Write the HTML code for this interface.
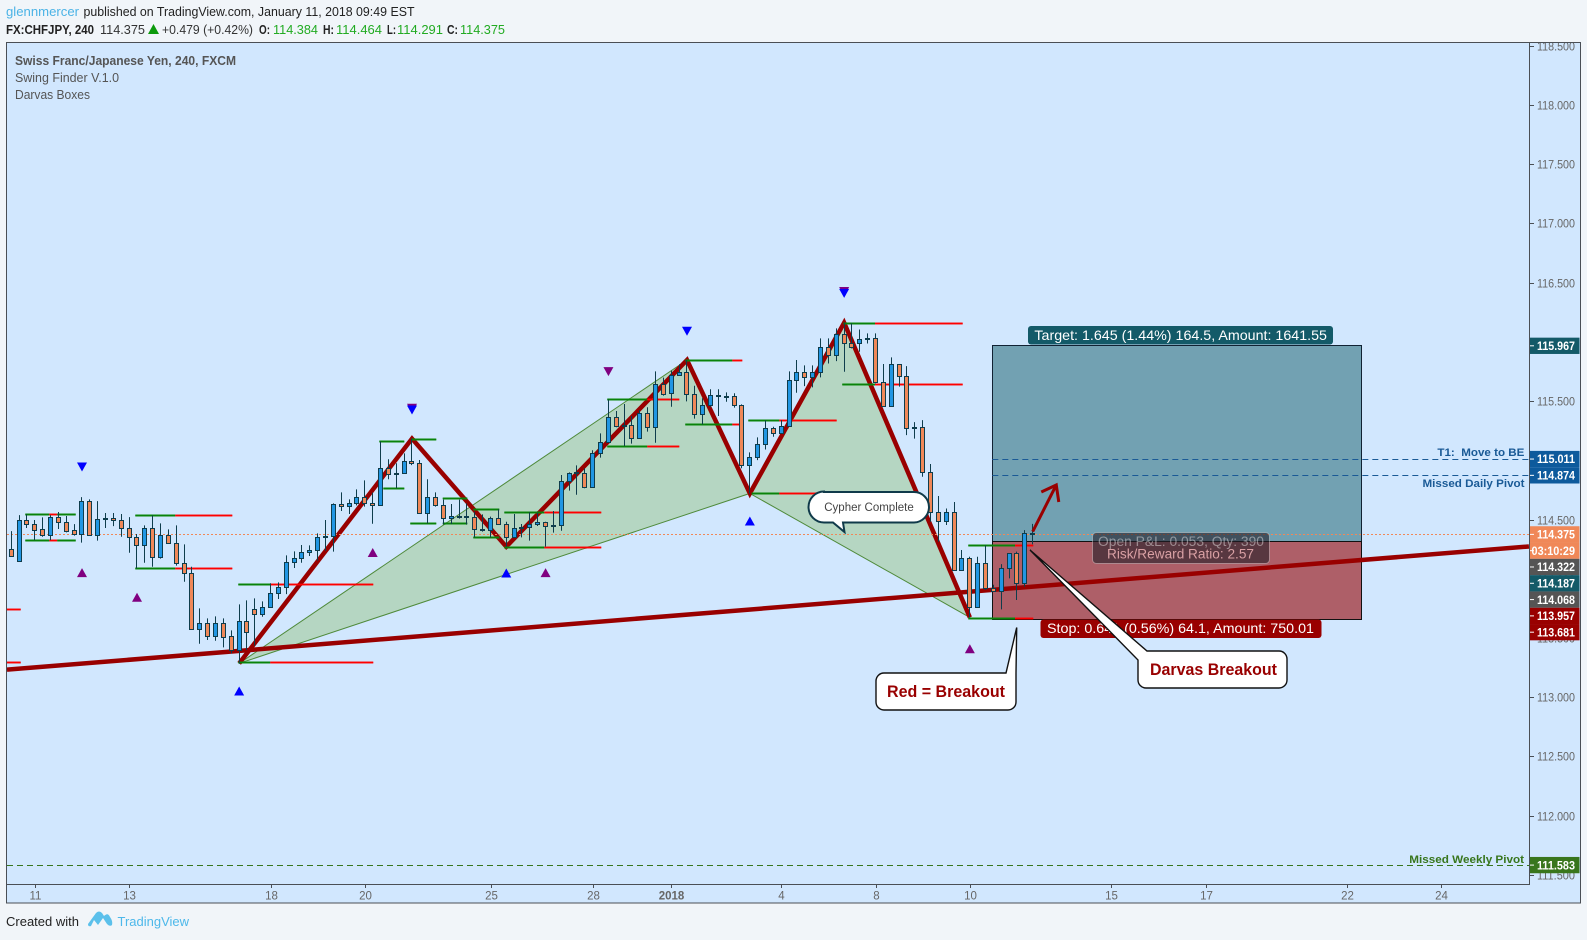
<!DOCTYPE html>
<html lang="en">
<head>
<meta charset="utf-8">
<title>CHFJPY 240 chart</title>
<style>
html,body{margin:0;padding:0;background:#f1f5f9;width:1587px;height:940px;overflow:hidden}
svg{display:block;font-family:"Liberation Sans",sans-serif}
</style>
</head>
<body>
<svg id="root" xmlns="http://www.w3.org/2000/svg" width="1587" height="940" viewBox="0 0 1587 940">
  <defs>
    <clipPath id="paneClip"><rect x="7" y="43" width="1522" height="841"/></clipPath>
    <clipPath id="axisClip"><rect x="1530" y="43" width="50.5" height="841"/></clipPath>
  </defs>

  <text x="6" y="16" font-size="13" fill="#4bb3e6" textLength="73" lengthAdjust="spacingAndGlyphs">glennmercer</text>
  <text x="83.5" y="16" font-size="13" fill="#222" textLength="331" lengthAdjust="spacingAndGlyphs">published on TradingView.com, January 11, 2018 09:49 EST</text>

  <g font-size="12.5">
    <text x="6" y="34" font-weight="bold" fill="#222" textLength="88" lengthAdjust="spacingAndGlyphs">FX:CHFJPY, 240</text>
    <text x="100" y="34" fill="#333" textLength="45" lengthAdjust="spacingAndGlyphs">114.375</text>
    <polygon points="148,34 159,34 153.5,24" fill="#0c9a0c"/>
    <text x="162" y="34" fill="#333" textLength="91" lengthAdjust="spacingAndGlyphs">+0.479 (+0.42%)</text>
    <text x="259" y="34" font-weight="bold" fill="#222" textLength="11" lengthAdjust="spacingAndGlyphs">O:</text>
    <text x="273" y="34" fill="#22ab22" textLength="45" lengthAdjust="spacingAndGlyphs">114.384</text>
    <text x="323" y="34" font-weight="bold" fill="#222" textLength="11" lengthAdjust="spacingAndGlyphs">H:</text>
    <text x="336" y="34" fill="#22ab22" textLength="46" lengthAdjust="spacingAndGlyphs">114.464</text>
    <text x="387" y="34" font-weight="bold" fill="#222" textLength="9" lengthAdjust="spacingAndGlyphs">L:</text>
    <text x="397" y="34" fill="#22ab22" textLength="46" lengthAdjust="spacingAndGlyphs">114.291</text>
    <text x="447" y="34" font-weight="bold" fill="#222" textLength="11" lengthAdjust="spacingAndGlyphs">C:</text>
    <text x="460" y="34" fill="#22ab22" textLength="45" lengthAdjust="spacingAndGlyphs">114.375</text>
  </g>

  <rect x="6.5" y="42.5" width="1574" height="860.5" fill="#d1e7fe" stroke="#4a4f55" stroke-width="1"/>
  <g id="timeAxis"></g>
  <g clip-path="url(#axisClip)"><g id="priceTicks"></g></g>

  <g clip-path="url(#paneClip)">
    <g id="riskBox"></g>
    <g id="pattern"></g>
    <g id="trend"></g>
    <g id="zigzag"></g>
    <g id="darvas"></g>
    <g id="hlines"></g>
    <g id="candles"></g>
    <g id="markers"></g>
    <g id="arrow"></g>
  </g>

  <line x1="1529.5" y1="43" x2="1529.5" y2="884" stroke="#4a4f55"/>
  <line x1="7" y1="884.5" x2="1530" y2="884.5" stroke="#4a4f55"/>
  <g id="axisLabels"></g>

  <g fill="#555" font-size="12.5">
    <text x="15" y="65" font-weight="bold" textLength="221" lengthAdjust="spacingAndGlyphs">Swiss Franc/Japanese Yen, 240, FXCM</text>
    <text x="15" y="82" textLength="104" lengthAdjust="spacingAndGlyphs">Swing Finder V.1.0</text>
    <text x="15" y="99" textLength="75" lengthAdjust="spacingAndGlyphs">Darvas Boxes</text>
  </g>

  <g font-size="11" font-weight="bold">
    <text x="1437.4" y="456" fill="#1a5a96" textLength="87" lengthAdjust="spacingAndGlyphs">T1:&#160; Move to BE</text>
    <text x="1422.5" y="487" fill="#1a5a96" textLength="102" lengthAdjust="spacingAndGlyphs">Missed Daily Pivot</text>
    <text x="1409.3" y="863" fill="#38761d" textLength="114.7" lengthAdjust="spacingAndGlyphs">Missed Weekly Pivot</text>
  </g>

  <rect x="1028" y="326" width="305" height="18.5" rx="3" fill="#135a68"/>
  <text x="1034.4" y="340" font-size="14" fill="#fff" textLength="292.6" lengthAdjust="spacingAndGlyphs">Target: 1.645 (1.44%) 164.5, Amount: 1641.55</text>
  <rect x="1040.5" y="619.5" width="281" height="18.5" rx="3" fill="#990000"/>
  <text x="1047" y="633" font-size="14" fill="#fff" textLength="267" lengthAdjust="spacingAndGlyphs">Stop: 0.641 (0.56%) 64.1, Amount: 750.01</text>

  <rect x="1092.5" y="532.5" width="177" height="31" rx="4" fill="rgba(35,30,40,.62)" stroke="rgba(255,255,255,.35)"/>
  <text x="1098" y="546" font-size="13.5" fill="rgba(255,255,255,.42)" textLength="166" lengthAdjust="spacingAndGlyphs">Open P&amp;L: 0.053, Qty: 390</text>
  <text x="1107" y="558.5" font-size="13.5" fill="#d9a0a4" textLength="147" lengthAdjust="spacingAndGlyphs">Risk/Reward Ratio: 2.57</text>

  <path d="M824,492 H914 a15,15 0 0 1 15,15 a15.5,15.5 0 0 1 -15,15.5 H843 L844.5,532 L833,522.5 H824 a15.5,15.5 0 0 1 0,-31 z" fill="#fff" stroke="#0f3a4a" stroke-width="2"/>
  <text x="869" y="511" font-size="11.5" fill="#444" text-anchor="middle">Cypher Complete</text>

  <path d="M884,673 H1006 L1016.7,627.5 L1016,673 V702 a8,8 0 0 1 -8,8 H884 a8,8 0 0 1 -8,-8 V681 a8,8 0 0 1 8,-8 z" fill="#fff" stroke="#111" stroke-width="1.4"/>
  <text x="887" y="697" font-size="16.5" font-weight="bold" fill="#990000" textLength="118" lengthAdjust="spacingAndGlyphs">Red = Breakout</text>

  <path d="M1147,651 H1279 a8,8 0 0 1 8,8 V680 a8,8 0 0 1 -8,8 H1146 a8,8 0 0 1 -8,-8 V660 L1030,550 z" fill="#fff" stroke="#111" stroke-width="1.4"/>
  <text x="1150" y="675" font-size="16.5" font-weight="bold" fill="#990000" textLength="127" lengthAdjust="spacingAndGlyphs">Darvas Breakout</text>

  <text x="6" y="926" font-size="13" fill="#222" textLength="73" lengthAdjust="spacingAndGlyphs">Created with</text>
  <path d="M88,924 L96,913 Q99,910 102,913 L104,916 Q108,912 110,917 Q113,921 112,925 Q110,927 107,924 L103,918 L98,925 L94,920 L91,926 Q88,927 88,924 z" fill="#5bc0eb"/>
  <text x="117.5" y="926" font-size="13" fill="#4db8ea" textLength="71.5" lengthAdjust="spacingAndGlyphs">TradingView</text>
</svg>

<script>
const opens=[114.248,114.153,114.493,114.465,114.417,114.372,114.519,114.476,114.409,114.381,114.654,114.372,114.502,114.510,114.493,114.426,114.350,114.288,114.426,114.187,114.367,114.299,114.130,114.046,113.579,113.624,113.520,113.624,113.514,113.401,113.641,113.742,113.700,113.759,113.877,113.928,114.139,114.172,114.223,114.240,114.350,114.358,114.628,114.611,114.637,114.687,114.637,114.620,114.933,114.882,114.890,114.992,114.975,114.553,114.688,114.620,114.511,114.522,114.519,114.519,114.409,114.409,114.511,114.460,114.350,114.426,114.435,114.460,114.477,114.443,114.451,114.823,114.890,114.890,114.778,115.059,115.152,115.363,115.287,115.296,115.186,115.397,115.279,115.642,115.566,115.718,115.743,115.557,115.388,115.464,115.540,115.538,115.540,115.464,114.957,115.025,115.135,115.270,115.228,115.287,115.675,115.743,115.700,115.743,115.954,115.886,116.063,115.987,115.987,116.024,116.030,115.658,115.455,115.810,115.709,115.270,115.278,114.898,114.561,114.485,114.561,114.071,114.172,113.759,114.130,113.919,113.894,114.088,114.215,113.961,114.384];
const highs=[114.403,114.538,114.544,114.496,114.519,114.538,114.564,114.530,114.462,114.690,114.671,114.656,114.555,114.555,114.547,114.521,114.378,114.451,114.535,114.468,114.417,114.451,114.291,114.102,113.750,113.666,113.683,113.666,113.565,113.784,113.818,113.835,113.809,113.961,113.970,114.198,114.232,114.285,114.282,114.383,114.496,114.637,114.730,114.671,114.755,114.831,114.727,115.158,115.009,114.975,115.059,115.183,115.003,114.840,114.730,114.671,114.632,114.671,114.637,114.567,114.544,114.525,114.586,114.482,114.547,114.463,114.561,114.558,114.482,114.572,114.876,114.899,114.958,114.933,115.085,115.228,115.515,115.417,115.476,115.374,115.425,115.448,115.751,115.698,115.757,115.811,115.847,115.630,115.524,115.600,115.600,115.574,115.566,115.473,115.067,115.194,115.337,115.284,115.340,115.751,115.847,115.802,115.802,116.030,116.030,116.114,116.162,116.156,116.105,116.072,116.072,115.813,115.869,115.810,115.796,115.323,115.340,114.969,114.699,114.594,114.648,114.243,114.186,114.186,114.282,113.950,114.124,114.215,114.229,114.411,114.464];
const lows=[114.195,114.153,114.429,114.327,114.355,114.327,114.420,114.392,114.364,114.305,114.372,114.322,114.429,114.445,114.355,114.220,114.088,114.136,114.102,114.170,114.299,114.111,113.975,113.573,113.452,113.483,113.477,113.421,113.370,113.286,113.399,113.435,113.680,113.756,113.829,113.871,114.091,114.136,114.192,114.153,114.237,114.229,114.572,114.547,114.620,114.609,114.465,114.620,114.840,114.764,114.890,114.960,114.550,114.468,114.609,114.460,114.463,114.508,114.460,114.350,114.398,114.350,114.460,114.271,114.342,114.350,114.322,114.446,114.271,114.390,114.406,114.744,114.710,114.764,114.778,115.023,115.149,115.279,115.121,115.141,115.183,115.242,115.149,115.546,115.453,115.715,115.498,115.352,115.304,115.448,115.374,115.495,115.445,114.933,114.721,115.002,115.092,115.199,115.222,115.284,115.571,115.627,115.616,115.700,115.818,115.838,115.748,115.945,115.917,115.987,115.650,115.452,115.452,115.622,115.213,115.183,114.862,114.482,114.313,114.454,114.071,114.071,113.674,113.757,113.905,113.890,113.742,114.004,113.821,113.933,114.291];
const closes=[114.195,114.493,114.465,114.414,114.372,114.519,114.476,114.406,114.378,114.654,114.372,114.502,114.510,114.493,114.426,114.350,114.288,114.426,114.187,114.367,114.299,114.130,114.046,113.579,113.624,113.520,113.624,113.511,113.401,113.641,113.548,113.700,113.759,113.877,113.928,114.139,114.172,114.223,114.240,114.350,114.358,114.628,114.611,114.637,114.687,114.637,114.620,114.933,114.882,114.890,114.992,114.975,114.553,114.688,114.620,114.511,114.527,114.527,114.527,114.418,114.418,114.511,114.460,114.350,114.426,114.435,114.460,114.477,114.443,114.451,114.823,114.896,114.899,114.778,115.059,115.152,115.363,115.287,115.296,115.186,115.397,115.279,115.642,115.563,115.718,115.743,115.557,115.388,115.464,115.549,115.549,115.540,115.464,114.958,115.025,115.135,115.270,115.228,115.287,115.675,115.743,115.700,115.743,115.954,115.886,116.063,115.987,115.954,116.021,116.030,115.658,115.455,115.810,115.709,115.270,115.278,114.898,114.561,114.485,114.561,114.071,114.172,113.759,114.130,113.919,113.894,114.088,114.215,113.964,114.383,114.375];

const zigzagBars=[29,51,63,86,94,106,122];
const zigzagPrices=[113.286,115.183,114.271,115.847,114.721,116.162,113.674];
const patternOneIdx=[0,3,4];
const patternTwoIdx=[4,5,6];
const trendBars=[-0.55,193.16];
const trendPrices=[113.233,114.273];

const darvasPrices=[114.545,114.545,114.325,114.325,114.536,114.089,113.954,113.295,113.743,113.295,114.764,115.161,115.178,114.469,114.680,114.469,114.587,114.351,114.562,114.266,115.515,115.119,115.845,115.304,115.338,114.722,116.157,115.642,114.283,113.667];
const darvasStarts=[1.78,5.85,1.78,5.85,15.78,15.78,28.89,28.89,-0.55,-0.55,47.35,46.84,50.91,50.78,54.91,54.91,58.8,58.8,62.75,62.75,75.85,75.85,85.78,85.78,93.8,94.23,105.9,105.76,121.8,121.8];
const darvasBreaks=[4.84,8.2,4.84,8.2,20.87,20.87,32.96,32.96,-0.55,-0.55,50.02,50.02,54.09,54.09,58.04,58.04,62.11,62.11,67.84,67.84,80.94,80.94,91.77,91.77,97.75,97.75,109.93,109.93,127.75,127.75];
const darvasEnds=[5.85,8.2,5.85,8.2,28.13,28.13,46.07,46.07,1.2,1.2,50.02,50.02,54.09,54.09,58.04,58.04,62.11,62.11,75.09,75.09,85.02,85.02,93.04,93.04,105.05,102.5,121.09,121.09,130.07,130.07];

const markerBars=[51,86,106,76,51,106,9,16,46,68,9,122,29,63,94];
const markerPrices=[115.44,116.09,116.425,115.749,115.425,116.41,114.944,113.844,114.222,114.052,114.052,113.409,113.053,114.049,114.488];
const markerKinds=['pd','bd','pd','pd','bd','bd','bd','pu','pu','pu','pu','pu','bu','bu','bu'];

const timeTickBars=[3,15,33,45,61,74,84,98,110,122,140,152,170,182];
const timeTickLabels=['11','13','18','20','25','28','2018','4','8','10','15','17','22','24'];
const priceTickValues=[118.5,118,117.5,117,116.5,116,115.5,115,114.5,114,113.5,113,112.5,112,111.5];

const axisLabelPrices=[115.967,115.011,114.874,114.375,114.375,114.322,114.187,114.068,113.957,113.681,111.583];
const axisLabelTexts=['115.967','115.011','114.874','114.375','03:10:29','114.322','114.187','114.068','113.957','113.681','111.583'];
const axisLabelColors=['#135a68','#0d5a9c','#0d5a9c','#f08858','#f08858','#555555','#135a68','#555555','#990000','#990000','#38761d'];

const riskBoxPrices=[115.97,114.322,113.658];
const riskBoxBars=[124.86,171.8];
const lastPrice=114.375;
const dailyPivots=[115.011,114.874];
const weeklyPivot=111.583;
const arrowBars=[130,133];
const arrowPrices=[114.399,114.792];

const NS='http://www.w3.org/2000/svg';
function xScale(i){return 11.3+7.857*i;}
function yScale(p){return 105+(118-p)*118.45;}
function mk(tag,attrs,parent){
  const el=document.createElementNS(NS,tag);
  for(const k in attrs){el.setAttribute(k,attrs[k]);}
  parent.appendChild(el);
  return el;
}
function g(id){return document.getElementById(id);}
function pts(bars,prices){return bars.map(function(b,i){return xScale(b)+','+yScale(prices[i]);}).join(' ');}

/* risk box */
(function(){
  const p=g('riskBox');
  const x1=Math.round(xScale(riskBoxBars[0]))+0.5,x2=Math.round(xScale(riskBoxBars[1]))+0.5;
  const t=Math.round(yScale(riskBoxPrices[0]))+0.5,m=Math.round(yScale(riskBoxPrices[1]))+0.5,b=Math.round(yScale(riskBoxPrices[2]))+0.5;
  const prof=mk('rect',{x:x1,y:t,width:x2-x1,height:m-t,fill:'#72a1b2',stroke:'#123'},p);
  
  
  const loss=mk('rect',{x:x1,y:m,width:x2-x1,height:b-m,fill:'#ae5f68',stroke:'#111'},p);
  
  
})();

/* cypher pattern */
(function(){
  const p=g('pattern');
  [patternOneIdx,patternTwoIdx].forEach(function(idx){
    const poly=mk('polygon',{points:pts(idx.map(function(k){return zigzagBars[k];}),idx.map(function(k){return zigzagPrices[k];})),fill:'rgba(117,174,57,.3)',stroke:'#4f8a3a','stroke-width':1},p);
    
    
  });
})();

/* trend line */
(function(){
  const l=mk('polyline',{points:pts(trendBars,trendPrices),fill:'none',stroke:'#990000','stroke-width':4.5},g('trend'));
  
  
})();

/* zigzag */
(function(){
  const l=mk('polyline',{points:pts(zigzagBars,zigzagPrices),fill:'none',stroke:'#990000','stroke-width':4.5,'stroke-linejoin':'miter'},g('zigzag'));
  
  
})();

/* darvas lines */
(function(){
  const p=g('darvas');
  darvasPrices.forEach(function(price,i){
    const y=Math.round(yScale(price))+0.5;
    const xa=xScale(darvasStarts[i]),xb=xScale(darvasBreaks[i]),xc=xScale(darvasEnds[i]);
    if(xb>xa){
      const h=mk('line',{x1:xa,x2:xb,y1:y,y2:y,stroke:'#0c8a0c','stroke-width':3,'stroke-opacity':.5},p);
      
      
      const c=mk('line',{x1:xa,x2:xb,y1:y,y2:y,stroke:'#0a820a','stroke-width':1},p);
      
      
    }
    const rs=Math.max(xa,xb);
    if(xc>rs){
      const h2=mk('line',{x1:rs,x2:xc,y1:y,y2:y,stroke:'#ff0000','stroke-width':3,'stroke-opacity':.45},p);
      
      
      const c2=mk('line',{x1:rs,x2:xc,y1:y,y2:y,stroke:'#ff0000','stroke-width':1},p);
      
      
    }
  });
})();

/* horizontal lines */
(function(){
  const p=g('hlines');
  const ly=Math.round(yScale(lastPrice))+0.5;
  const last=mk('line',{x1:7,x2:1529,y1:ly,y2:ly,stroke:'#f08858','stroke-dasharray':'2 2'},p);
  
  
  dailyPivots.forEach(function(v){
    const yy=Math.round(yScale(v))+0.5;
    const d=mk('line',{x1:xScale(riskBoxBars[0]),x2:1529,y1:yy,y2:yy,stroke:'#1a5a96','stroke-dasharray':'6 4'},p);
    
    
  });
  const wy=Math.round(yScale(weeklyPivot))+0.5;
  const w=mk('line',{x1:7,x2:1529,y1:wy,y2:wy,stroke:'#38761d','stroke-dasharray':'6 4'},p);
  
  
})();

/* candles */
(function(){
  const p=g('candles');
  opens.forEach(function(o,i){
    const cx=Math.floor(xScale(i)-0.1)+0.5;
    const c=closes[i];
    const top=Math.round(yScale(Math.max(o,c)))+0.5;
    const bot=Math.round(yScale(Math.min(o,c)))+0.5;
    const wick=mk('line',{x1:cx,x2:cx,y1:yScale(highs[i]),y2:yScale(lows[i]),stroke:'#0f3d4c','stroke-width':1},p);
    
    
    const body=mk('rect',{x:cx-2,y:top,width:4,height:Math.max(bot-top,1),fill:c>=o?'#2196e3':'#f08858',stroke:'#0f3d4c','stroke-width':1},p);
    
    
  });
})();

/* triangle markers */
(function(){
  const p=g('markers');
  markerBars.forEach(function(b,i){
    const x=xScale(b),y=yScale(markerPrices[i]),k=markerKinds[i];
    const col=k.charAt(0)==='b'?'#0000ff':'#800080';
    const dir=k.charAt(1)==='u'?-1:1;
    const tri=mk('polygon',{points:(x-5)+','+(y-4.5*dir)+' '+(x+5)+','+(y-4.5*dir)+' '+x+','+(y+4.5*dir),fill:col},p);
    
    
  });
})();

/* breakout arrow */
(function(){
  const p=g('arrow');
  const x1=xScale(arrowBars[0]),y1=yScale(arrowPrices[0]),x2=xScale(arrowBars[1]),y2=yScale(arrowPrices[1]);
  const shaft=mk('line',{x1:x1,y1:y1,x2:x2,y2:y2,stroke:'#990000','stroke-width':3},p);
  
  
  const head=mk('polyline',{points:(x2-15)+','+(y2+7)+' '+x2+','+y2+' '+(x2+2.5)+','+(y2+17),fill:'none',stroke:'#990000','stroke-width':3},p);
  
  
})();

/* time axis */
(function(){
  const p=g('timeAxis');
  timeTickBars.forEach(function(b,i){
    const x=Math.round(xScale(b))+0.5;
    const t=mk('line',{x1:x,x2:x,y1:884,y2:888,stroke:'#4a4f55'},p);
    
    
    const lab=timeTickLabels[i];
    const tx=mk('text',{x:x,y:899.5,'font-size':11.5,fill:'#666','text-anchor':'middle','font-weight':lab==='2018'?'bold':'normal'},p);
    tx.textContent=lab;
    
    
  });
})();

/* price ticks */
(function(){
  const p=g('priceTicks');
  priceTickValues.forEach(function(v){
    const y=Math.round(yScale(v))+0.5;
    const t=mk('line',{x1:1530,x2:1534,y1:y,y2:y,stroke:'#4a4f55'},p);
    
    
    const tx=mk('text',{x:1537,y:y+4.2,'font-size':11.8,fill:'#666',textLength:38,lengthAdjust:'spacingAndGlyphs'},p);
    tx.textContent=v.toFixed(3);
    
    
  });
})();

/* stacked axis badges */
(function(){
  const p=g('axisLabels');
  let prev=-100;
  axisLabelPrices.forEach(function(v,i){
    let y=yScale(v);
    if(y<prev+16.3){y=prev+16.3;}
    prev=y;
    const r=mk('rect',{x:1530,y:y-8.15,width:49.5,height:16.3,fill:axisLabelColors[i]},p);
    
    
    const tk=mk('line',{x1:1530,x2:1534,y1:y,y2:y,stroke:'#ffffff'},p);
    
    
    const len=axisLabelTexts[i].length*5.43;
    const tx=mk('text',{x:1575-len,y:y+4.2,'font-size':11.8,'font-weight':'bold',fill:'#fff',textLength:len,lengthAdjust:'spacingAndGlyphs'},p);
    tx.textContent=axisLabelTexts[i];
    
    
  });
})();
</script>
</body>
</html>
